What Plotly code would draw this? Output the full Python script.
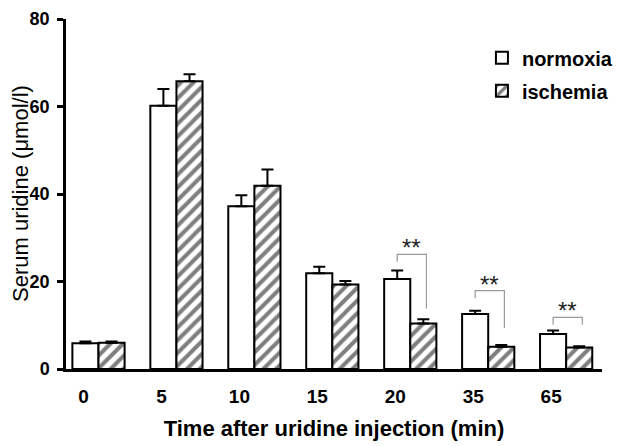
import plotly.graph_objects as go

# data
times = ["0", "5", "10", "15", "20", "35", "65"]
normoxia = [5.9, 60.2, 37.2, 21.9, 20.6, 12.6, 8.0]
normoxia_err = [0.4, 3.8, 2.5, 1.5, 1.9, 0.7, 0.8]
ischemia = [6.0, 65.8, 41.9, 19.3, 10.4, 5.1, 4.9]
ischemia_err = [0.3, 1.6, 3.7, 0.8, 1.0, 0.4, 0.3]
y_ticks = [0, 20, 40, 60, 80]

# significance brackets: time, bracket top, left leg end, right leg end
sig_time = ["20", "35", "65"]
sig_top = [26.2, 17.9, 11.8]
sig_left = [24.5, 16.2, 10.1]
sig_right = [13.8, 9.4, 10.1]
sig_label = ["**", "**", "**"]

FONT = "Arial, Liberation Sans, sans-serif"
BAR_W = 0.335  # width of one bar in category units

fig = go.Figure()
fig.add_trace(go.Bar(
    x=times, y=normoxia, name="normoxia", legendgroup="n",
    marker=dict(color="white", line=dict(color="black", width=2)),
    error_y=dict(type="data", array=normoxia_err, arrayminus=[0] * len(times),
                 symmetric=False, color="black", thickness=2, width=6),
))
fig.add_trace(go.Bar(
    x=times, y=ischemia, name="ischemia", legendgroup="i",
    marker=dict(color="white", line=dict(color="black", width=2),
                pattern=dict(shape="/", fgcolor="black", bgcolor="white",
                             size=9, solidity=0.45, fillmode="overlay")),
    error_y=dict(type="data", array=ischemia_err, arrayminus=[0] * len(times),
                 symmetric=False, color="black", thickness=2, width=6),
))

for t, top, left, right, lab in zip(sig_time, sig_top, sig_left, sig_right, sig_label):
    i = times.index(t)
    xl = i - BAR_W / 2
    xr = i + BAR_W / 2 + 0.04
    fig.add_shape(type="path",
                  path=f"M {xl},{left} L {xl},{top} L {xr},{top} L {xr},{right}",
                  xref="x", yref="y", line=dict(color="#9a9a9a", width=1.2))
    fig.add_annotation(x=(xl + xr) / 2, y=top, text=lab, showarrow=False,
                       xref="x", yref="y", yanchor="bottom", yshift=-9,
                       font=dict(family=FONT, size=24, color="#222"))

# y title as a rotated annotation so it can sit right at the left edge
fig.add_annotation(text="Serum uridine (μmol/l)", textangle=-90, showarrow=False,
                   xref="paper", yref="paper", x=0, y=0.5, xanchor="center",
                   yanchor="middle", xshift=-46,
                   font=dict(family=FONT, size=22, color="black"))

# page body has an 8px margin, so the figure is a bit smaller than the window
fig.update_layout(
    width=621, height=438,
    margin=dict(l=58, r=19, t=11, b=77),
    paper_bgcolor="white", plot_bgcolor="white",
    barmode="group", bargap=0.33, bargroupgap=0,
    font=dict(family=FONT, color="black"),
    legend=dict(x=0.776, y=0.945, xanchor="left", yanchor="top",
                traceorder="grouped", tracegroupgap=4,
                font=dict(family=FONT, size=20, weight="bold"),
                bgcolor="rgba(0,0,0,0)"),
)
fig.update_xaxes(
    range=[-0.417, 6.46], showline=True, linecolor="black", linewidth=2.5,
    ticks="", showgrid=False, zeroline=False, ticklabelshift=-15,
    ticklabelstandoff=8, automargin=False,
    tickfont=dict(family=FONT, size=19, weight="bold"),
    title=dict(text="Time after uridine injection (min)", standoff=16,
               font=dict(family=FONT, size=22, weight="bold")),
)
fig.update_yaxes(
    range=[0, 80], tickvals=y_ticks, showline=True, linecolor="black",
    linewidth=2.5, ticks="outside", ticklen=6, tickwidth=2.5, tickcolor="black",
    showgrid=False, zeroline=False, ticklabelstandoff=4, automargin=False,
    ticklabeloverflow="allow",
    tickfont=dict(family=FONT, size=18, weight="bold"),
)

fig.write_html("out.html")
